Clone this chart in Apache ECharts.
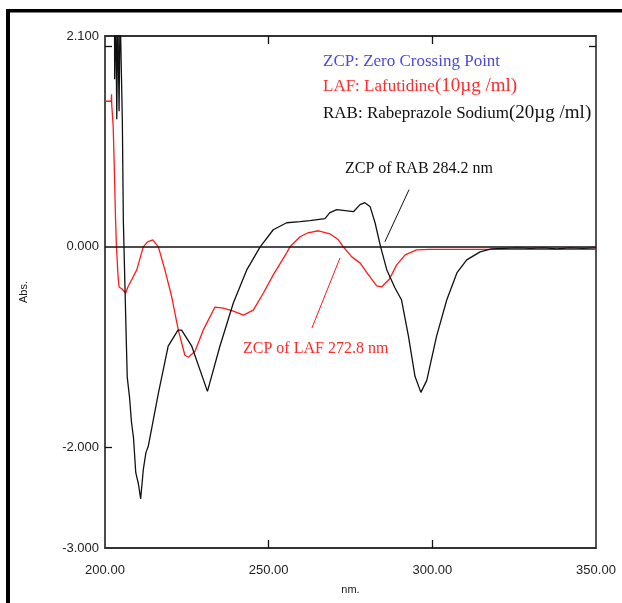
<!DOCTYPE html>
<html>
<head>
<meta charset="utf-8">
<script src="https://cdn.jsdelivr.net/npm/echarts@6/dist/echarts.min.js"></script>
<style>
html,body{margin:0;padding:0;background:#fff;}
#chart{width:622px;height:603px;}
</style>
</head>
<body>
<div id="chart"></div>
<script>
// Wavelength (nm) / absorbance pairs
var rabWavelength = [202.9,202.95,203.3,203.6,203.9,204.3,204.6,205.1,205.3,205.6,206.1,206.5,206.8,207.5,208.1,208.7,209.4,210.2,210.9,211.7,212.5,213.2,216.3,219.3,222.3,223.4,226.5,231.3,235.1,239.2,243.3,247.4,251.4,255.5,259.6,262.6,267.2,268.7,270.8,275.9,277.9,279.4,281.0,282.5,284.2,286.1,288.6,290.6,292.7,294.7,296.5,298.3,301.3,304.4,307.5,310.5,314.6,318,322,326,330,334,338,342,346,350];
var rabAbs =        [2.4,1.67,2.4,1.27,2.4,1.35,2.4,2.4,1.25,0.27,-0.4,-0.93,-1.3,-1.5,-1.75,-1.9,-2.25,-2.36,-2.51,-2.22,-2.05,-1.99,-1.46,-0.99,-0.83,-0.83,-0.99,-1.44,-0.99,-0.56,-0.23,0,0.17,0.24,0.25,0.26,0.28,0.34,0.37,0.35,0.42,0.44,0.40,0.24,0,-0.23,-0.41,-0.53,-0.89,-1.29,-1.45,-1.33,-0.89,-0.53,-0.26,-0.13,-0.05,-0.02,-0.015,-0.01,-0.015,-0.01,-0.02,-0.01,-0.015,-0.01];
var lafWavelength = [200,201.9,202.0,202.05,202.5,202.8,203.2,203.5,204.0,204.3,205.2,206.3,207.0,208.1,209.7,211.7,213.0,214.6,216.3,218.3,220.4,222.4,224.4,225.5,227.5,230.0,233.6,236.1,239.2,242.3,245.3,248.4,251.4,255.5,256.5,259.6,262,265.2,268.7,271.3,272.8,275.4,277.9,280.5,283.0,284.5,286.9,289.1,291.7,295.2,299.3,305,310,315,320,325,330,335,340,345,350];
var lafAbs =        [1.45,1.45,1.52,1.42,1.2,0.84,0.3,0,-0.3,-0.4,-0.42,-0.46,-0.4,-0.33,-0.23,0,0.05,0.07,0,-0.23,-0.5,-0.83,-1.08,-1.1,-1.04,-0.83,-0.6,-0.61,-0.64,-0.68,-0.63,-0.46,-0.28,-0.06,0,0.1,0.14,0.16,0.13,0.07,0,-0.1,-0.16,-0.28,-0.39,-0.4,-0.32,-0.18,-0.08,-0.03,-0.025,-0.025,-0.025,-0.025,-0.025,-0.025,-0.025,-0.025,-0.025,-0.025,-0.025];
var xTickValues = [250, 300];
var yLabelValues = [-3, -2, 0, 2.1];
var rabZcp = [[292.9, 0.57], [285.5, 0.05]];
var lafZcp = [[271.8, -0.11], [263.2, -0.81]];

function pairs(xs, ys){ return xs.map(function(x,i){ return [x, ys[i]]; }); }

var chart = echarts.init(document.getElementById('chart'), null, {renderer:'canvas'});
var axisCol = '#333';
var labelFont = {fontFamily:'Liberation Sans', fontSize:13, color:'#222'};
var option = {
  animation:false,
  backgroundColor:'#fff',
  grid:{left:105, right:26, top:36, bottom:55, containLabel:false},
  xAxis:[{
    type:'value', min:200, max:350, interval:50, position:'bottom',
    name:'nm.', nameLocation:'middle', nameGap:36,
    nameTextStyle:{fontFamily:'Liberation Sans', fontSize:11, color:'#222'},
    axisLine:{show:true, onZero:false, lineStyle:{color:axisCol, width:2}},
    axisTick:{show:true, inside:true, length:8, customValues:xTickValues, lineStyle:{color:'#111', width:1.3}},
    axisLabel:Object.assign({margin:16, formatter:function(v){return v.toFixed(2);}, showMinLabel:true, showMaxLabel:true}, labelFont),
    splitLine:{show:false}
  },{
    type:'value', min:200, max:350, interval:50, position:'top',
    axisLine:{show:true, onZero:false, lineStyle:{color:axisCol, width:2}},
    axisTick:{show:true, inside:true, length:8, customValues:xTickValues, lineStyle:{color:'#111', width:1.3}},
    axisLabel:{show:false}, splitLine:{show:false}
  }],
  yAxis:[{
    type:'value', min:-3, max:2.1, interval:1, position:'left',
    name:'Abs.', nameLocation:'middle', nameGap:76, nameRotate:90,
    nameTextStyle:{fontFamily:'Liberation Sans', fontSize:11, color:'#222'},
    axisLine:{show:true, onZero:false, lineStyle:{color:'#111', width:1.5}},
    axisTick:{show:true, inside:true, length:7, customValues:[-2, 2], lineStyle:{color:'#111', width:1.3}},
    axisLabel:Object.assign({margin:6, customValues:yLabelValues, formatter:function(v){return v.toFixed(3);}}, labelFont),
    splitLine:{show:false}
  },{
    type:'value', min:-3, max:2.1, interval:1, position:'right',
    axisLine:{show:true, onZero:false, lineStyle:{color:'#555', width:2}},
    axisTick:{show:true, inside:true, length:7, customValues:[2], lineStyle:{color:'#111', width:1.3}},
    axisLabel:{show:false}, splitLine:{show:false}
  }],
  series:[{
    name:'LAF', type:'line', xAxisIndex:0, yAxisIndex:0, data:pairs(lafWavelength, lafAbs),
    showSymbol:false, symbol:'none', clip:true,
    lineStyle:{color:'#ff1a1a', width:1.3}, z:2,
    markLine:{silent:true, symbol:'none', label:{show:false},
      lineStyle:{color:'#ff1a1a', width:1, type:'solid'},
      data:[[{coord:lafZcp[0]},{coord:lafZcp[1]}]]}
  },{
    name:'RAB', type:'line', xAxisIndex:0, yAxisIndex:0, data:pairs(rabWavelength, rabAbs),
    showSymbol:false, symbol:'none', clip:true,
    lineStyle:{color:'#111', width:1.3}, z:3,
    markLine:{silent:true, symbol:'none', label:{show:false},
      lineStyle:{color:'#111', width:1, type:'solid'},
      data:[[{coord:rabZcp[0]},{coord:rabZcp[1]}], {yAxis:0, lineStyle:{width:1.5, color:'#111'}}]}
  }],
  graphic:[
    {type:'rect', left:6, top:9, shape:{width:4, height:594}, style:{fill:'#000'}},
    {type:'rect', left:6, top:9, shape:{width:616, height:3.5}, style:{fill:'#000'}},
    {type:'text', left:323, top:53, style:{text:'ZCP: Zero Crossing Point', fill:'#4b4bd8', font:'17px "Liberation Serif"'}},
    {type:'text', left:323, top:77, style:{
      text:'{a|LAF: Lafutidine}{b|(10µg /ml)}', fill:'#ff2a2a',
      rich:{a:{fontFamily:'Liberation Serif', fontSize:17, fill:'#ff2a2a'}, b:{fontFamily:'Liberation Serif', fontSize:19, fill:'#ff2a2a'}}}},
    {type:'text', left:323, top:104, style:{
      text:'{a|RAB: Rabeprazole Sodium}{b|(20µg /ml)}', fill:'#111',
      rich:{a:{fontFamily:'Liberation Serif', fontSize:17, fill:'#111'}, b:{fontFamily:'Liberation Serif', fontSize:19, fill:'#111'}}}},
    {type:'text', left:345, top:161, style:{text:'ZCP of RAB 284.2 nm', fill:'#111', font:'16px "Liberation Serif"'}},
    {type:'text', left:243, top:341, style:{text:'ZCP of LAF 272.8 nm', fill:'#ff2a2a', font:'16px "Liberation Serif"'}}
  ]
};
chart.setOption(option);
</script>
</body>
</html>
